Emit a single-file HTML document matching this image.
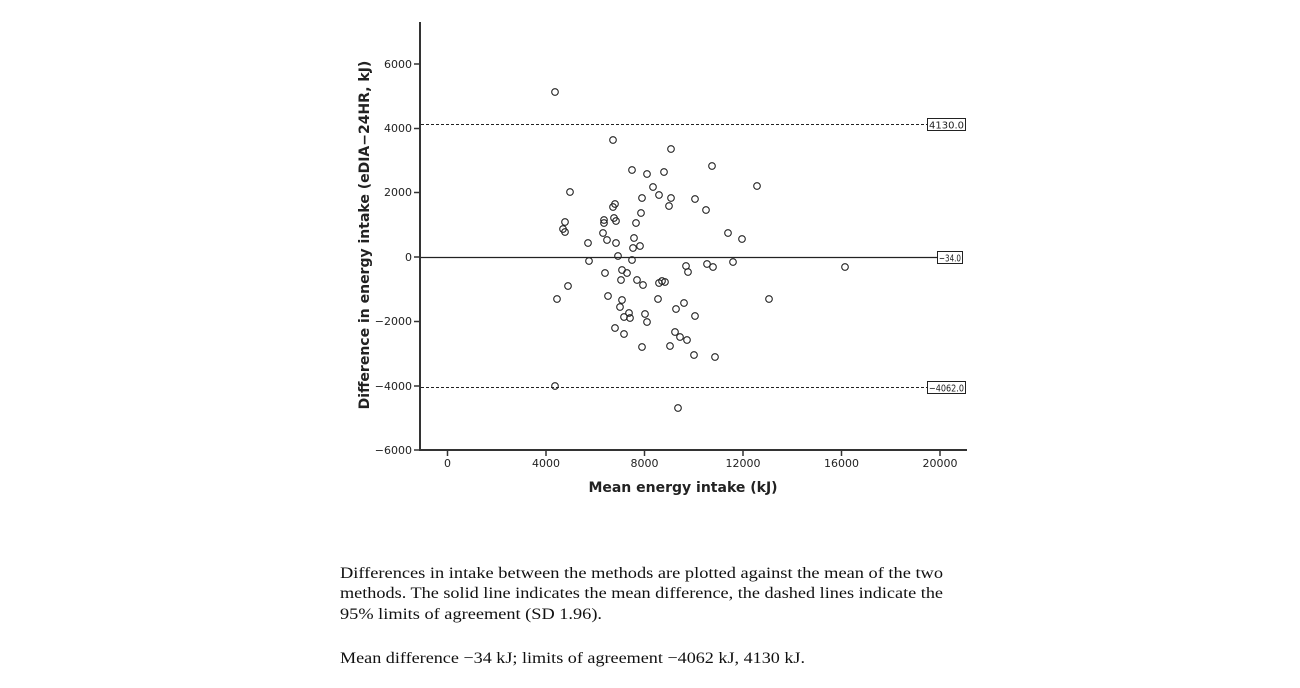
<!DOCTYPE html>
<html><head><meta charset="utf-8"><style>
html,body{margin:0;padding:0;background:#fff;width:1300px;height:688px;overflow:hidden}
svg{display:block}
</style></head><body>
<svg width="1300" height="688" xmlns="http://www.w3.org/2000/svg">
<g stroke="#333" stroke-width="2" fill="none">
<line x1="420" y1="22" x2="420" y2="451"/>
<line x1="419" y1="450" x2="967" y2="450"/>
</g>
<g stroke="#333" stroke-width="1.5">
<line x1="414" y1="64" x2="420" y2="64"/><line x1="414" y1="128.5" x2="420" y2="128.5"/><line x1="414" y1="192.5" x2="420" y2="192.5"/><line x1="414" y1="257" x2="420" y2="257"/><line x1="414" y1="321.5" x2="420" y2="321.5"/><line x1="414" y1="386" x2="420" y2="386"/><line x1="414" y1="450" x2="420" y2="450"/>
<line x1="447.5" y1="450" x2="447.5" y2="456"/><line x1="546" y1="450" x2="546" y2="456"/><line x1="644.5" y1="450" x2="644.5" y2="456"/><line x1="743" y1="450" x2="743" y2="456"/><line x1="841.5" y1="450" x2="841.5" y2="456"/><line x1="940" y1="450" x2="940" y2="456"/>
</g>
<g font-family="DejaVu Sans, Liberation Sans, sans-serif" font-size="11" fill="#222" text-anchor="end">
<text x="412" y="68">6000</text><text x="412" y="132">4000</text><text x="412" y="196">2000</text><text x="412" y="261">0</text><text x="412" y="325">−2000</text><text x="412" y="390">−4000</text><text x="412" y="454">−6000</text>
</g>
<g font-family="DejaVu Sans, Liberation Sans, sans-serif" font-size="11" fill="#222" text-anchor="middle">
<text x="447.5" y="467">0</text><text x="546" y="467">4000</text><text x="644.5" y="467">8000</text><text x="743" y="467">12000</text><text x="841.5" y="467">16000</text><text x="940" y="467">20000</text>
</g>
<text x="683" y="492" font-family="DejaVu Sans, Liberation Sans, sans-serif" font-size="14" font-weight="bold" fill="#222" text-anchor="middle">Mean energy intake (kJ)</text>
<text transform="translate(369,235) rotate(-90)" font-family="DejaVu Sans, Liberation Sans, sans-serif" font-size="14" font-weight="bold" fill="#222" text-anchor="middle">Difference in energy intake (eDIA−24HR, kJ)</text>
<line x1="421" y1="124.5" x2="927" y2="124.5" stroke="#222" stroke-dasharray="3,2"/>
<line x1="421" y1="387.5" x2="927" y2="387.5" stroke="#222" stroke-dasharray="3,2"/>
<line x1="421" y1="257.5" x2="937" y2="257.5" stroke="#222" stroke-width="1.2"/>
<g fill="#fff" stroke="#222" stroke-width="1">
<rect x="927.5" y="118.5" width="38" height="12"/>
<rect x="937.5" y="251.5" width="25" height="12"/>
<rect x="927.5" y="381.5" width="38" height="12"/>
</g>
<g font-family="DejaVu Sans, Liberation Sans, sans-serif" font-size="10" fill="#222">
<text x="929" y="128.5" textLength="35" lengthAdjust="spacingAndGlyphs">4130.0</text>
<text x="939" y="261.5" textLength="22" lengthAdjust="spacingAndGlyphs">−34.0</text>
<text x="929" y="391.5" textLength="35" lengthAdjust="spacingAndGlyphs">−4062.0</text>
</g>
<g fill="none" stroke="#222" stroke-width="1.1">
<circle cx="555" cy="92" r="3.3"/><circle cx="613" cy="140" r="3.3"/><circle cx="671" cy="149" r="3.3"/><circle cx="632" cy="170" r="3.3"/><circle cx="712" cy="166" r="3.3"/><circle cx="664" cy="172" r="3.3"/><circle cx="647" cy="174" r="3.3"/><circle cx="653" cy="187" r="3.3"/><circle cx="659" cy="195" r="3.3"/><circle cx="570" cy="192" r="3.3"/><circle cx="757" cy="186" r="3.3"/><circle cx="642" cy="198" r="3.3"/><circle cx="671" cy="198" r="3.3"/><circle cx="695" cy="199" r="3.3"/><circle cx="669" cy="206" r="3.3"/><circle cx="641" cy="213" r="3.3"/><circle cx="615" cy="204" r="3.3"/><circle cx="613" cy="207" r="3.3"/><circle cx="706" cy="210" r="3.3"/><circle cx="604" cy="220" r="3.3"/><circle cx="614" cy="218" r="3.3"/><circle cx="565" cy="222" r="3.3"/><circle cx="604" cy="223" r="3.3"/><circle cx="616" cy="221" r="3.3"/><circle cx="636" cy="223" r="3.3"/><circle cx="563" cy="229" r="3.3"/><circle cx="565" cy="232" r="3.3"/><circle cx="603" cy="233" r="3.3"/><circle cx="728" cy="233" r="3.3"/><circle cx="742" cy="239" r="3.3"/><circle cx="634" cy="238" r="3.3"/><circle cx="588" cy="243" r="3.3"/><circle cx="607" cy="240" r="3.3"/><circle cx="616" cy="243" r="3.3"/><circle cx="640" cy="246" r="3.3"/><circle cx="633" cy="248" r="3.3"/><circle cx="618" cy="256" r="3.3"/><circle cx="589" cy="261" r="3.3"/><circle cx="632" cy="260" r="3.3"/><circle cx="733" cy="262" r="3.3"/><circle cx="686" cy="266" r="3.3"/><circle cx="707" cy="264" r="3.3"/><circle cx="713" cy="267" r="3.3"/><circle cx="845" cy="267" r="3.3"/><circle cx="688" cy="272" r="3.3"/><circle cx="605" cy="273" r="3.3"/><circle cx="622" cy="270" r="3.3"/><circle cx="627" cy="273" r="3.3"/><circle cx="637" cy="280" r="3.3"/><circle cx="621" cy="280" r="3.3"/><circle cx="568" cy="286" r="3.3"/><circle cx="643" cy="285" r="3.3"/><circle cx="662" cy="281" r="3.3"/><circle cx="665" cy="282" r="3.3"/><circle cx="659" cy="283" r="3.3"/><circle cx="608" cy="296" r="3.3"/><circle cx="557" cy="299" r="3.3"/><circle cx="769" cy="299" r="3.3"/><circle cx="658" cy="299" r="3.3"/><circle cx="622" cy="300" r="3.3"/><circle cx="684" cy="303" r="3.3"/><circle cx="676" cy="309" r="3.3"/><circle cx="620" cy="307" r="3.3"/><circle cx="629" cy="313" r="3.3"/><circle cx="645" cy="314" r="3.3"/><circle cx="630" cy="318" r="3.3"/><circle cx="695" cy="316" r="3.3"/><circle cx="624" cy="317" r="3.3"/><circle cx="647" cy="322" r="3.3"/><circle cx="615" cy="328" r="3.3"/><circle cx="624" cy="334" r="3.3"/><circle cx="675" cy="332" r="3.3"/><circle cx="680" cy="337" r="3.3"/><circle cx="687" cy="340" r="3.3"/><circle cx="642" cy="347" r="3.3"/><circle cx="670" cy="346" r="3.3"/><circle cx="694" cy="355" r="3.3"/><circle cx="715" cy="357" r="3.3"/><circle cx="555" cy="386" r="3.3"/><circle cx="678" cy="408" r="3.3"/>
</g>
<g font-family="Liberation Serif, serif" font-size="16" fill="#111">
<text x="340" y="578" textLength="603" lengthAdjust="spacingAndGlyphs">Differences in intake between the methods are plotted against the mean of the two</text>
<text x="340" y="598" textLength="603" lengthAdjust="spacingAndGlyphs">methods. The solid line indicates the mean difference, the dashed lines indicate the</text>
<text x="340" y="619" textLength="262" lengthAdjust="spacingAndGlyphs">95% limits of agreement (SD 1.96).</text>
<text x="340" y="663" textLength="465" lengthAdjust="spacingAndGlyphs">Mean difference −34 kJ; limits of agreement −4062 kJ, 4130 kJ.</text>
</g>
</svg>
</body></html>
